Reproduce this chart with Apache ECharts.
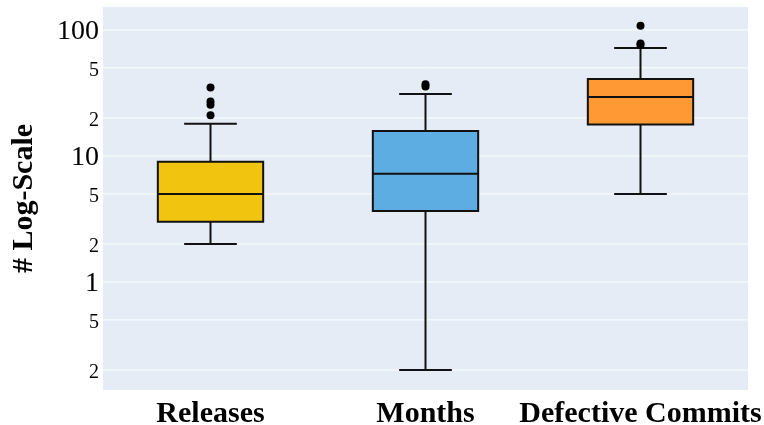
<!DOCTYPE html>
<html>
<head>
<meta charset="utf-8">
<script src="https://cdn.jsdelivr.net/npm/echarts@6/dist/echarts.min.js"></script>
<style>
  html, body { margin: 0; padding: 0; background: #ffffff; }
  #chart { width: 764px; height: 425px; }
</style>
</head>
<body>
<div id="chart"></div>
<script>
// Box-plot summaries per metric (log-scaled y axis)
const categories = ['Releases', 'Months', 'Defective Commits'];
const lowerWhisker = [2, 0.2, 5];
const q1 = [3, 3.66, 17.8];
const median = [5, 7.24, 29.4];
const q3 = [9, 15.8, 40.8];
const upperWhisker = [18, 31, 72];
const outliers = [
  [35, 27, 25.5, 21],
  [37, 35.5],
  [108, 78, 76]
];
const boxColors = ['#F1C40F', '#5DADE2', '#FF9933'];
const gridValues = [0.2, 0.5, 1, 2, 5, 10, 20, 50, 100];
const tickLabels = ['2', '5', '1', '2', '5', '10', '2', '5', '100'];

const boxData = categories.map((c, i) => [i, lowerWhisker[i], q1[i], median[i], q3[i], upperWhisker[i]]);
const outlierData = [];
outliers.forEach((arr, i) => arr.forEach(v => outlierData.push([i, v])));

function renderBox(params, api) {
  const idx = api.value(0);
  const band = api.size([1, 0])[0];
  const half = band * 0.245;
  const capHalf = half / 2;
  const pLow = api.coord([idx, api.value(1)]);
  const pQ1 = api.coord([idx, api.value(2)]);
  const pMed = api.coord([idx, api.value(3)]);
  const pQ3 = api.coord([idx, api.value(4)]);
  const pHigh = api.coord([idx, api.value(5)]);
  const x = pMed[0];
  const lineStyle = { stroke: '#111', lineWidth: 2, fill: null };
  return {
    type: 'group',
    children: [
      { type: 'line', shape: { x1: x, y1: pQ3[1], x2: x, y2: pHigh[1] }, style: lineStyle },
      { type: 'line', shape: { x1: x, y1: pQ1[1], x2: x, y2: pLow[1] }, style: lineStyle },
      { type: 'line', shape: { x1: x - capHalf, y1: pHigh[1], x2: x + capHalf, y2: pHigh[1] }, style: lineStyle },
      { type: 'line', shape: { x1: x - capHalf, y1: pLow[1], x2: x + capHalf, y2: pLow[1] }, style: lineStyle },
      {
        type: 'rect',
        shape: { x: x - half, y: pQ3[1], width: half * 2, height: pQ1[1] - pQ3[1] },
        style: { fill: boxColors[idx], stroke: '#111', lineWidth: 2 }
      },
      { type: 'line', shape: { x1: x - half, y1: pMed[1], x2: x + half, y2: pMed[1] }, style: lineStyle }
    ]
  };
}

function renderGrid(params, api) {
  const cs = params.coordSys;
  const y = api.coord([0, api.value(0)])[1];
  return {
    type: 'line',
    shape: { x1: cs.x, y1: y, x2: cs.x + cs.width, y2: y },
    style: { stroke: '#ffffff', lineWidth: 1 }
  };
}

function isDecade(v) {
  return [1, 10, 100].some(d => Math.abs(v - d) < 1e-6);
}

const chart = echarts.init(document.getElementById('chart'), null, { renderer: 'canvas' });
chart.setOption({
  animation: false,
  backgroundColor: '#ffffff',
  grid: {
    left: 103, right: 16, top: 7, bottom: 35,
    containLabel: false, outerBoundsMode: 'none',
    show: true, backgroundColor: '#E5ECF6', borderWidth: 0
  },
  xAxis: {
    type: 'category',
    data: categories,
    boundaryGap: true,
    axisLine: { show: false },
    axisTick: { show: false },
    splitLine: { show: false },
    axisLabel: {
      interval: 0,
      margin: 9,
      color: '#000',
      fontFamily: 'Liberation Serif',
      fontWeight: 'bold',
      fontSize: 30
    }
  },
  yAxis: {
    type: 'log',
    logBase: 10,
    min: 0.139,
    max: 152,
    name: '# Log-Scale',
    nameLocation: 'middle',
    nameGap: 64,
    nameTextStyle: { fontFamily: 'Liberation Serif', fontWeight: 'bold', fontSize: 30, color: '#000' },
    axisLine: { show: false },
    axisTick: { show: false },
    splitLine: { show: false },
    axisLabel: {
      customValues: gridValues,
      margin: 4,
      formatter: function (v) {
        let k = 0, best = Infinity;
        gridValues.forEach((g, i) => { const d = Math.abs(Math.log10(g) - Math.log10(v)); if (d < best) { best = d; k = i; } });
        const t = tickLabels[k];
        return isDecade(v) ? '{big|' + t + '}' : '{small|' + t + '}';
      },
      rich: {
        big: { fontFamily: 'Liberation Serif', fontSize: 28, color: '#000', padding: [3, 0, 0, 0] },
        small: { fontFamily: 'Liberation Serif', fontSize: 20, color: '#000', padding: [6, 0, 0, 0] }
      }
    }
  },
  series: [
    {
      type: 'custom',
      silent: true,
      renderItem: renderGrid,
      data: gridValues.map(v => [v]),
      encode: { y: 0 },
      z: 1
    },
    {
      type: 'custom',
      renderItem: renderBox,
      data: boxData,
      encode: { x: 0, y: [1, 2, 3, 4, 5] },
      z: 3
    },
    {
      type: 'scatter',
      data: outlierData,
      symbolSize: 8,
      itemStyle: { color: '#000', opacity: 1 },
      z: 4
    }
  ]
});
</script>
</body>
</html>
